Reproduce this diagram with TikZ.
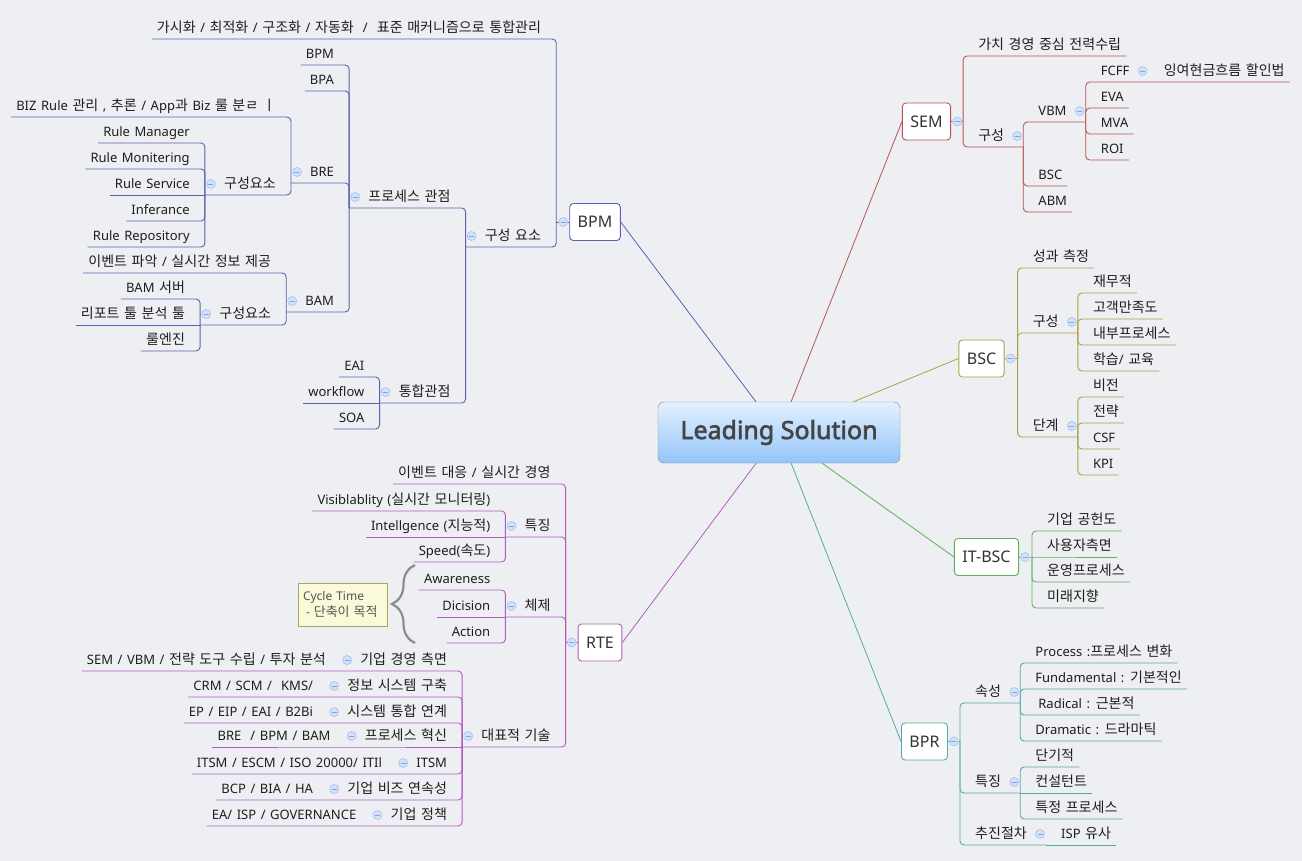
\documentclass[tikz,border=0pt]{standalone}
\usepackage{fontspec}
\setmainfont{Noto Sans}[WordSpace=1.35]
\newfontfamily\krfont{Noto Sans CJK KR}[Scale=1.08]
\newfontfamily\hubfont{Noto Sans}[FakeBold=2.6]
\usepackage{tikz}
\usetikzlibrary{decorations.pathreplacing}
\definecolor{bgc}{HTML}{EEEFF2}
\definecolor{txtc}{HTML}{1E1E1E}
\definecolor{hubt}{HTML}{E4F1FE}
\definecolor{hubb}{HTML}{92C5F9}
\definecolor{hubd}{HTML}{7E8894}
\definecolor{hubx}{HTML}{454545}
\definecolor{bpmc}{HTML}{5F5FB0}
\definecolor{rtec}{HTML}{B25CBF}
\definecolor{semc}{HTML}{B45555}
\definecolor{bscc}{HTML}{A8A24A}
\definecolor{itc}{HTML}{5DB05D}
\definecolor{bprc}{HTML}{55A9A9}
\definecolor{togf}{HTML}{D2E2FA}
\definecolor{togd}{HTML}{A6BEEA}
\definecolor{togm}{HTML}{86A2DC}
\definecolor{notef}{HTML}{FAFAD8}
\definecolor{noted}{HTML}{A5A56A}
\definecolor{notex}{HTML}{555555}
\definecolor{bracec}{HTML}{8C8C8C}
\colorlet{br}{black}
\newcommand\togR[1]{\node[tog] (#1-t) at ([xshift=8pt,yshift=11pt]#1.south east) {};
  \coordinate (#1-j) at ([xshift=14pt]#1.south east);}
\newcommand\togL[1]{\node[tog] (#1-t) at ([xshift=-8pt,yshift=11pt]#1.south west) {};
  \coordinate (#1-j) at ([xshift=-14pt]#1.south west);}
% hangul is set in the CJK face
\XeTeXinterchartokenstate=1
\newXeTeXintercharclass\krclass
\makeatletter
\count@="AC00
\loop\ifnum\count@<"D7A4
  \XeTeXcharclass\count@=\krclass
  \advance\count@\@ne
\repeat
\count@="3131
\loop\ifnum\count@<"318F
  \XeTeXcharclass\count@=\krclass
  \advance\count@\@ne
\repeat
\makeatother
\XeTeXinterchartoks 0 \krclass = {\begingroup\krfont}
\XeTeXinterchartoks 4095 \krclass = {\begingroup\krfont}
\XeTeXinterchartoks \krclass 0 = {\endgroup}
\XeTeXinterchartoks \krclass 4095 = {\endgroup}

\begin{document}
\begin{tikzpicture}[x=1pt, y=-1pt, font=\fontsize{13}{15}\selectfont, text=txtc,
  hub/.style={draw=hubd, rounded corners=6pt, top color=hubt, bottom color=hubb,
              minimum width=242pt, minimum height=61pt, text=hubx,
              font=\hubfont\fontsize{25}{28}\selectfont},
  box/.style={draw=br, fill=white, rounded corners=3.5pt, line width=0.9pt, text=black!80,
              minimum height=37pt, inner xsep=8pt, font=\fontsize{16}{18}\selectfont},
  topic/.style={inner xsep=5pt, inner ysep=2.5pt, text height=9.5pt, text depth=3.5pt},
  rt/.style={topic, anchor=south west, xshift=10pt},
  lt/.style={topic, anchor=south east, xshift=-10pt},
  tog/.style={circle, draw=togd, fill=togf, line width=0.6pt, minimum size=9pt, inner sep=0pt,
              path picture={\draw[togm, line width=0.9pt]
                ([xshift=-2.5pt]path picture bounding box.center) --
                ([xshift=2.5pt]path picture bounding box.center);}},
  cn/.style={draw=br, line width=0.9pt, rounded corners=4pt},
  spoke/.style={draw=#1, line width=0.8pt},
  note/.style={draw=noted, fill=notef, text=notex, align=left, text width=79pt,
               inner xsep=5pt, minimum height=43pt, font=\fontsize{12}{16}\selectfont},
  brc/.style={draw=bracec, line width=2.2pt, decorate, decoration={brace, amplitude=23pt}}]
  \fill[bgc] (0,0) rectangle (1302,861);
  \useasboundingbox (0,0) rectangle (1302,861);

  \node[hub] (ls) at (779,432.5) {Leading Solution};

  % BPM
  \begin{scope}
  \colorlet{br}{bpmc}
  \node[box] (bpm) at (595,222) {BPM};
  \coordinate (bpm-j) at ([xshift=-13pt]bpm.west);
  \draw[cn] (bpm.west) -- (bpm-j);
  \node[tog] (bpm-t) at ([xshift=-6pt]bpm.west) {};
  \node[lt] (vis) at (bpm-j |- 0,39) {가시화 / 최적화 / 구조화 / 자동화 \ / \ 표준 매커니즘으로 통합관리};
  \node[lt] (comp) at (bpm-j |- 0,247) {구성 요소}; \togL{comp}
  \draw[cn] (bpm-j) |- (vis.south east) -- (vis.south west);
  \draw[cn] (bpm-j) |- (comp.south east) -- (comp-j);
  \node[lt] (proc) at (comp-j |- 0,208) {프로세스 관점}; \togL{proc}
  \node[lt] (intg) at (comp-j |- 0,403) {통합관점}; \togL{intg}
  \draw[cn] (comp-j) |- (proc.south east) -- (proc-j);
  \draw[cn] (comp-j) |- (intg.south east) -- (intg-j);
  \node[lt] (bpm1) at (proc-j |- 0,65) {BPM};
  \node[lt] (bpa) at (proc-j |- 0,91) {BPA};
  \node[lt] (bre) at (proc-j |- 0,183) {BRE}; \togL{bre}
  \node[lt] (bam) at (proc-j |- 0,312) {BAM}; \togL{bam}
  \foreach \n in {bpm1,bpa} \draw[cn] (proc-j) |- (\n.south east) -- (\n.south west);
  \foreach \n in {bre,bam} \draw[cn] (proc-j) |- (\n.south east) -- (\n-j);
  \node[lt] (biz) at (bre-j |- 0,117) {BIZ Rule 관리 , 추론 / App과 Biz 룰 분ㄹ ㅣ};
  \node[lt] (brec) at (bre-j |- 0,195) {구성요소}; \togL{brec}
  \draw[cn] (bre-j) |- (biz.south east) -- (biz.south west);
  \draw[cn] (bre-j) |- (brec.south east) -- (brec-j);
  \node[lt] (rman) at (brec-j |- 0,143) {Rule Manager};
  \node[lt] (rmon) at (brec-j |- 0,169) {Rule Monitering};
  \node[lt] (rsvc) at (brec-j |- 0,195) {Rule Service};
  \node[lt] (rinf) at (brec-j |- 0,221) {Inferance};
  \node[lt] (rrep) at (brec-j |- 0,247) {Rule Repository};
  \foreach \n in {rman,rmon,rinf,rrep} \draw[cn] (brec-j) |- (\n.south east) -- (\n.south west);
  \draw[cn] (brec-j) -- (rsvc.south west);
  \node[lt] (evt) at (bam-j |- 0,273) {이벤트 파악 / 실시간 정보 제공};
  \node[lt] (bamc) at (bam-j |- 0,325) {구성요소}; \togL{bamc}
  \draw[cn] (bam-j) |- (evt.south east) -- (evt.south west);
  \draw[cn] (bam-j) |- (bamc.south east) -- (bamc-j);
  \node[lt] (bsrv) at (bamc-j |- 0,299) {BAM 서버};
  \node[lt] (rtool) at (bamc-j |- 0,325) {리포트 툴 분석 툴};
  \node[lt] (reng) at (bamc-j |- 0,351) {룰엔진};
  \foreach \n in {bsrv,reng} \draw[cn] (bamc-j) |- (\n.south east) -- (\n.south west);
  \draw[cn] (bamc-j) -- (rtool.south west);
  \node[lt] (eai) at (intg-j |- 0,377) {EAI};
  \node[lt] (wf) at (intg-j |- 0,403) {workflow};
  \node[lt] (soa) at (intg-j |- 0,429) {SOA};
  \foreach \n in {eai,soa} \draw[cn] (intg-j) |- (\n.south east) -- (\n.south west);
  \draw[cn] (intg-j) -- (wf.south west);
  \end{scope}

  % RTE
  \begin{scope}
  \colorlet{br}{rtec}
  \node[box] (rte) at (600,642.5) {RTE};
  \coordinate (rte-j) at ([xshift=-12pt]rte.west);
  \draw[cn] (rte.west) -- (rte-j);
  \node[tog] (rte-t) at ([xshift=-6pt]rte.west) {};
  \node[lt] (evr) at (rte-j |- 0,484) {이벤트 대응 / 실시간 경영};
  \node[lt] (feat) at (rte-j |- 0,537) {특징}; \togL{feat}
  \node[lt] (sys) at (rte-j |- 0,617) {체제}; \togL{sys}
  \node[lt] (tech) at (rte-j |- 0,747) {대표적 기술}; \togL{tech}
  \draw[cn] (rte-j) |- (evr.south east) -- (evr.south west);
  \foreach \n in {feat,sys,tech} \draw[cn] (rte-j) |- (\n.south east) -- (\n-j);
  \node[lt] (visb) at (feat-j |- 0,511) {Visiblablity (실시간 모니터링)};
  \node[lt] (intl) at (feat-j |- 0,537) {Intellgence (지능적)};
  \node[lt] (spd) at (feat-j |- 0,562) {Speed(속도)};
  \foreach \n in {visb,spd} \draw[cn] (feat-j) |- (\n.south east) -- (\n.south west);
  \draw[cn] (feat-j) -- (intl.south west);
  \node[lt] (awr) at (sys-j |- 0,590) {Awareness};
  \node[lt] (dcs) at (sys-j |- 0,617) {Dicision};
  \node[lt] (act) at (sys-j |- 0,643) {Action};
  \foreach \n in {awr,act} \draw[cn] (sys-j) |- (\n.south east) -- (\n.south west);
  \draw[cn] (sys-j) -- (dcs.south west);
  \draw[brc] (415,643) -- (415,565);
  \node[note] (cyc) at (342.5,604.5) {Cycle Time\\\hspace*{3pt}- 단축이 목적};
  \node[lt] (t1) at (tech-j |- 0,671) {기업 경영 측면}; \togL{t1}
  \node[lt] (t2) at (tech-j |- 0,697) {정보 시스템 구축}; \togL{t2}
  \node[lt] (t3) at (tech-j |- 0,723) {시스템 통합 연계}; \togL{t3}
  \node[lt] (t4) at (tech-j |- 0,747) {프로세스 혁신}; \togL{t4}
  \node[lt] (t5) at (tech-j |- 0,774) {ITSM}; \togL{t5}
  \node[lt] (t6) at (tech-j |- 0,800) {기업 비즈 연속성}; \togL{t6}
  \node[lt] (t7) at (tech-j |- 0,826) {기업 정책}; \togL{t7}
  \node[lt] (t1c) at (t1-j |- 0,671) {SEM / VBM / 전략 도구 수립 / 투자 분석};
  \node[lt] (t2c) at (t2-j |- 0,697) {CRM / SCM / \ KMS/};
  \node[lt] (t3c) at (t3-j |- 0,723) {EP / EIP / EAI / B2Bi};
  \node[lt] (t4c) at (t4-j |- 0,747) {BRE \ / BPM / BAM};
  \node[lt] (t5c) at (t5-j |- 0,774) {ITSM / ESCM / ISO 20000/ ITIl};
  \node[lt] (t6c) at (t6-j |- 0,800) {BCP / BIA / HA};
  \node[lt] (t7c) at (t7-j |- 0,826) {EA/ ISP / GOVERNANCE};
  \foreach \n in {t1,t2,t3,t5,t6,t7}
    \draw[cn] (tech-j) |- (\n.south east) -- (\n-j) -- (\n c.south west);
  \draw[cn] (tech-j) -- (t4-j) -- (t4c.south west);
  \end{scope}

  % SEM
  \begin{scope}
  \colorlet{br}{semc}
  \node[box] (sem) at (926.5,121.5) {SEM};
  \coordinate (sem-j) at ([xshift=12pt]sem.east);
  \draw[cn] (sem.east) -- (sem-j);
  \node[tog] (sem-t) at ([xshift=6pt]sem.east) {};
  \node[rt] (vmgt) at (sem-j |- 0,56) {가치 경영 중심 전력수립};
  \node[rt] (semk) at (sem-j |- 0,147) {구성}; \togR{semk}
  \draw[cn] (sem-j) |- (vmgt.south west) -- (vmgt.south east);
  \draw[cn] (sem-j) |- (semk.south west) -- (semk-j);
  \node[rt] (vbm) at (semk-j |- 0,122) {VBM}; \togR{vbm}
  \node[rt] (sbsc) at (semk-j |- 0,186) {BSC};
  \node[rt] (abm) at (semk-j |- 0,212) {ABM};
  \draw[cn] (semk-j) |- (vbm.south west) -- (vbm-j);
  \foreach \n in {sbsc,abm} \draw[cn] (semk-j) |- (\n.south west) -- (\n.south east);
  \node[rt] (fcff) at (vbm-j |- 0,82) {FCFF}; \togR{fcff}
  \node[rt] (eva) at (vbm-j |- 0,108) {EVA};
  \node[rt] (mva) at (vbm-j |- 0,134) {MVA};
  \node[rt] (roi) at (vbm-j |- 0,160) {ROI};
  \node[rt] (fcfd) at (fcff-j |- 0,82) {잉여현금흐름 할인법};
  \draw[cn] (vbm-j) |- (fcff.south west) -- (fcff-j) -- (fcfd.south east);
  \foreach \n in {eva,mva,roi} \draw[cn] (vbm-j) |- (\n.south west) -- (\n.south east);
  \end{scope}

  % BSC
  \begin{scope}
  \colorlet{br}{bscc}
  \node[box] (bsc) at (981.5,358.5) {BSC};
  \coordinate (bsc-j) at ([xshift=13pt]bsc.east);
  \draw[cn] (bsc.east) -- (bsc-j);
  \node[tog] (bsc-t) at ([xshift=6pt]bsc.east) {};
  \node[rt] (perf) at (bsc-j |- 0,268) {성과 측정};
  \node[rt] (bsck) at (bsc-j |- 0,333) {구성}; \togR{bsck}
  \node[rt] (bscd) at (bsc-j |- 0,437) {단계}; \togR{bscd}
  \draw[cn] (bsc-j) |- (perf.south west) -- (perf.south east);
  \foreach \n in {bsck,bscd} \draw[cn] (bsc-j) |- (\n.south west) -- (\n-j);
  \node[rt] (fin) at (bsck-j |- 0,293) {재무적};
  \node[rt] (cust) at (bsck-j |- 0,319) {고객만족도};
  \node[rt] (inpr) at (bsck-j |- 0,345) {내부프로세스};
  \node[rt] (lrn) at (bsck-j |- 0,371) {학습/ 교육};
  \foreach \n in {fin,cust,inpr,lrn} \draw[cn] (bsck-j) |- (\n.south west) -- (\n.south east);
  \node[rt] (visn) at (bscd-j |- 0,397) {비전};
  \node[rt] (strg) at (bscd-j |- 0,423) {전략};
  \node[rt] (csf) at (bscd-j |- 0,449) {CSF};
  \node[rt] (kpi) at (bscd-j |- 0,475) {KPI};
  \foreach \n in {visn,strg,csf,kpi} \draw[cn] (bscd-j) |- (\n.south west) -- (\n.south east);
  \end{scope}

  % IT-BSC
  \begin{scope}
  \colorlet{br}{itc}
  \node[box] (it) at (986.5,557) {IT-BSC};
  \coordinate (it-j) at ([xshift=13pt]it.east);
  \node[rt] (it1) at (it-j |- 0,531) {기업 공헌도};
  \node[rt] (it2) at (it-j |- 0,557) {사용자측면};
  \node[rt] (it3) at (it-j |- 0,582) {운영프로세스};
  \node[rt] (it4) at (it-j |- 0,608) {미래지향};
  \draw[cn] (it.east) -- (it-j) -- (it2.south east);
  \foreach \n in {it1,it3,it4} \draw[cn] (it-j) |- (\n.south west) -- (\n.south east);
  \node[tog] (it-t) at ([xshift=6pt]it.east) {};
  \end{scope}

  % BPR
  \begin{scope}
  \colorlet{br}{bprc}
  \node[box] (bpr) at (924.5,741.5) {BPR};
  \coordinate (bpr-j) at ([xshift=12pt]bpr.east);
  \draw[cn] (bpr.east) -- (bpr-j);
  \node[tog] (bpr-t) at ([xshift=6pt]bpr.east) {};
  \node[rt] (attr) at (bpr-j |- 0,703) {속성}; \togR{attr}
  \node[rt] (bprf) at (bpr-j |- 0,793) {특징}; \togR{bprf}
  \node[rt] (bprs) at (bpr-j |- 0,845) {추진절차}; \togR{bprs}
  \foreach \n in {attr,bprf,bprs} \draw[cn] (bpr-j) |- (\n.south west) -- (\n-j);
  \node[rt] (prc) at (attr-j |- 0,663) {Process :프로세스 변화};
  \node[rt] (fund) at (attr-j |- 0,689) {Fundamental : 기본적인};
  \node[rt] (radi) at (attr-j |- 0,715) {\kern3pt Radical : 근본적};
  \node[rt] (dram) at (attr-j |- 0,741) {Dramatic : 드라마틱};
  \foreach \n in {prc,fund,radi,dram} \draw[cn] (attr-j) |- (\n.south west) -- (\n.south east);
  \node[rt] (shrt) at (bprf-j |- 0,767) {단기적};
  \node[rt] (cons) at (bprf-j |- 0,793) {컨설턴트};
  \node[rt] (spec) at (bprf-j |- 0,819) {특정 프로세스};
  \foreach \n in {shrt,spec} \draw[cn] (bprf-j) |- (\n.south west) -- (\n.south east);
  \draw[cn] (bprf-j) -- (cons.south east);
  \node[rt] (isp) at (bprs-j |- 0,845) {ISP 유사};
  \draw[cn] (bprs-j) -- (isp.south east);
  \end{scope}

  % spokes from the centre
  \draw[spoke=bpmc] (ls) -- (bpm.east);
  \draw[spoke=semc] (ls) -- (sem.west);
  \draw[spoke=bscc] (ls) -- (bsc.west);
  \draw[spoke=itc] (ls) -- (it.west);
  \draw[spoke=bprc] (ls) -- (bpr.west);
  \draw[spoke=rtec] (ls) -- (rte.east);
\end{tikzpicture}
\end{document}
